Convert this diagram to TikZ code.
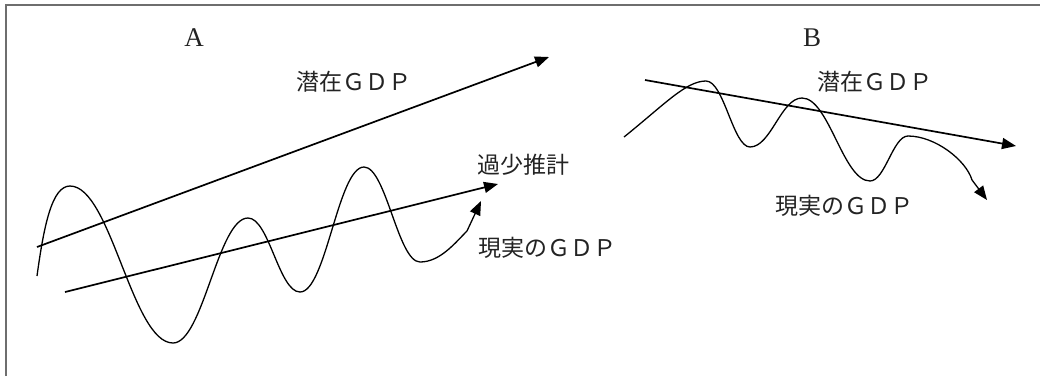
\documentclass[tikz,border=0pt]{standalone}
\usepackage{fontspec}
\newfontfamily\cjk{Noto Sans CJK JP}
\newfontfamily\romfont{Liberation Serif}
\usetikzlibrary{arrows.meta}
\definecolor{framegray}{RGB}{110,110,110}
\definecolor{inkgray}{RGB}{35,35,35}

\begin{document}
\begin{tikzpicture}[x=1pt,y=-1pt,
    trend/.style={line width=1.7pt, -{Triangle[length=14pt,width=11pt]}},
    wave/.style={line width=1.3pt},
    wavetip/.style={line width=1.3pt, -{Triangle[length=14pt,width=11pt]}},
    jlabel/.style={anchor=west, inner sep=0pt, text=inkgray,
                   font=\cjk\fontsize{23}{27}\selectfont},
    panel/.style={inner sep=0pt, text=inkgray, font=\romfont\fontsize{27}{31}\selectfont}]
  \useasboundingbox (0,0) rectangle (1040,376);
  % frame: only the top and left edges show
  \draw[framegray, line width=1.1pt] (6,376) -- (6,5) -- (1040,5);

  % panel A
  \node[panel] (titleA) at (194,38) {A};
  \node[jlabel] (potA) at (296,82) {潜在ＧＤＰ};
  \node[jlabel] (underA) at (477,165) {過少推計};
  \node[jlabel] (realA) at (478,248) {現実のＧＤＰ};
  \coordinate (potAs) at (37,247);
  \coordinate (potAe) at (549,57);
  \coordinate (lowAs) at (65,292);
  \coordinate (lowAe) at (498,184);
  \draw[trend] (potAs) -- (potAe);
  \draw[trend] (lowAs) -- (lowAe);
  \coordinate (waveAs) at (37,276);
  \coordinate (waveAk) at (467,231);
  \coordinate (waveAe) at (481,201);
  \draw[wave] (waveAs) .. controls (44,225) and (52,186) .. (70,186)
    .. controls (111,186) and (132,343) .. (173,343)
    .. controls (203,343) and (218,218) .. (248,218)
    .. controls (269,218) and (279,292) .. (300,292)
    .. controls (326,292) and (338,167) .. (364,167)
    .. controls (386,167) and (398,262) .. (420,262)
    .. controls (440,262) and (455,243) .. (waveAk);
  \draw[wavetip] (waveAk) -- (waveAe);

  % panel B
  \node[panel] (titleB) at (812,38) {B};
  \node[jlabel] (potB) at (817,82) {潜在ＧＤＰ};
  \node[jlabel] (realB) at (775,206) {現実のＧＤＰ};
  \coordinate (potBs) at (645,80);
  \coordinate (potBe) at (1016,146);
  \draw[trend] (potBs) -- (potBe);
  \coordinate (waveBs) at (624,137);
  \coordinate (waveBk) at (972,180);
  \coordinate (waveBe) at (987,200);
  \draw[wave] (waveBs) .. controls (665,104) and (686,81) .. (706,81)
    .. controls (724,81) and (733,147) .. (750,147)
    .. controls (771,147) and (781,98) .. (802,98)
    .. controls (829,98) and (843,181) .. (870,181)
    .. controls (885,181) and (893,136) .. (908,136)
    .. controls (935,136) and (966,160) .. (waveBk);
  \draw[wavetip] (waveBk) -- (waveBe);
\end{tikzpicture}
\end{document}
